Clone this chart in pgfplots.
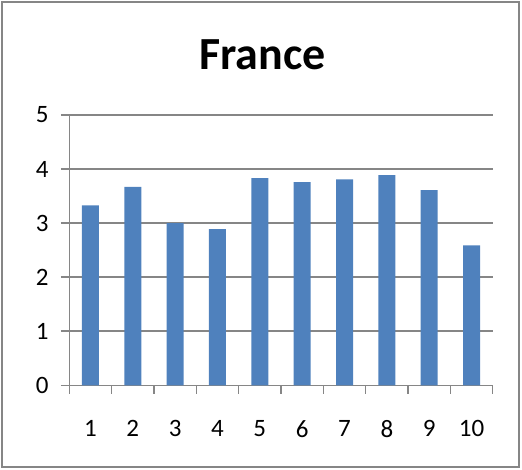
\documentclass[border=0pt]{standalone}
\usepackage{pgfplots}
\pgfplotsset{compat=1.18}
\usepackage{fontspec}
\setmainfont{Carlito}
\definecolor{barblue}{HTML}{4F81BD}
\definecolor{gridgray}{HTML}{868686}
\begin{document}
\begin{tikzpicture}
\begin{axis}[
  scale only axis,
  width=423.4pt, height=270.3pt,
  xmin=0.5, xmax=10.5,
  ymin=0, ymax=5,
  ytick={0,1,2,3,4,5},
  xtick={0.5,1.5,...,10.5},
  xticklabels={},
  extra x ticks={1,2,3,4,5,6,7,8,9,10},
  extra x tick labels={1,2,3,4,5,6,7,8,9,10},
  extra x tick style={major tick length=0pt, xmajorgrids=false},
  axis x line*=bottom,
  axis y line*=left,
  axis line style={draw=gridgray, line width=1.5pt},
  tick align=outside,
  major tick length=8.5pt,
  tick style={draw=gridgray, line width=1.5pt},
  ymajorgrids=true,
  grid style={draw=gridgray, line width=1.5pt},
  /pgf/number format/assume math mode=true,
  ticklabel style={font=\fontsize{25}{29}\selectfont, text=black},
  yticklabel style={inner sep=0pt, xshift=-12pt},
  xticklabel style={inner sep=0pt, anchor=north, yshift=-35pt},
  ybar, bar width=17pt,
  clip=false,
]
\addplot[fill=barblue, draw=none] coordinates {
(1,3.33) (2,3.67) (3,3.00) (4,2.89) (5,3.83) (6,3.76) (7,3.81) (8,3.89) (9,3.61) (10,2.59)
};
\end{axis}
\node[anchor=base, font=\fontsize{46}{50}\selectfont\bfseries, inner sep=0pt] at (193.2pt,315.3pt) {France};
\draw[draw=gridgray, line width=1.5pt] (-67.3pt,-81.7pt) rectangle (449.7pt,383.3pt);
\pgfresetboundingbox
\path[use as bounding box] (-69.3pt,-84.7pt) rectangle (452.7pt,385.3pt);
\end{tikzpicture}
\end{document}
